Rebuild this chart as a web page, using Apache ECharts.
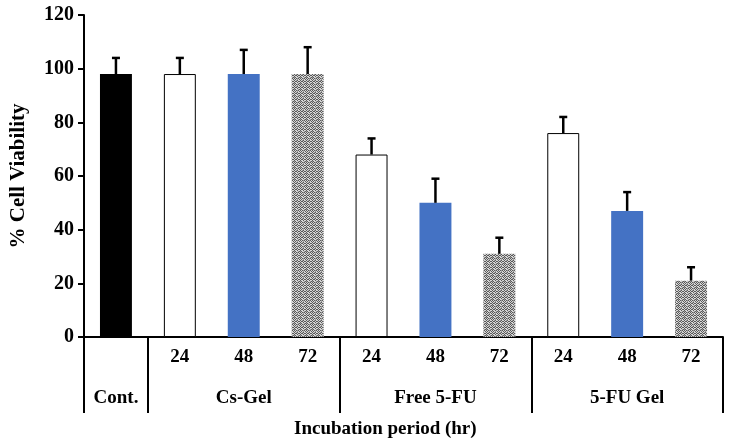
<!DOCTYPE html>
<html>
<head>
<meta charset="utf-8">
<script src="https://cdn.jsdelivr.net/npm/echarts@6/dist/echarts.min.js"></script>
<style>html,body{margin:0;padding:0;background:#fff;}#c{width:734px;height:445px;}</style>
</head>
<body>
<div id="c"></div>
<script>
// ---- data ----
const categories = ['Cont.', 'Cs-Gel 24', 'Cs-Gel 48', 'Cs-Gel 72', 'Free 5-FU 24', 'Free 5-FU 48', 'Free 5-FU 72', '5-FU Gel 24', '5-FU Gel 48', '5-FU Gel 72'];
const hourLabels = ['', '24', '48', '72', '24', '48', '72', '24', '48', '72'];
const groupLabels = ['Cont.', '', 'Cs-Gel', '', '', 'Free 5-FU', '', '', '5-FU Gel', ''];
const groupStarts = [0, 1, 4, 7];
const viability = [98, 98, 98, 98, 68, 50, 31, 76, 47, 21];
const errorUp = [6, 6, 9, 10, 6, 9, 6, 6, 7, 5];
const fillKinds = ['black', 'white', 'blue', 'pattern', 'white', 'blue', 'pattern', 'white', 'blue', 'pattern'];
const yTicks = { min: 0, max: 120, interval: 20 };

// ---- pattern texture ----
function makePattern() {
  const c = document.createElement('canvas');
  c.width = 6; c.height = 6;
  const g = c.getContext('2d');
  g.fillStyle = '#d6d6d6';
  g.fillRect(0, 0, 6, 6);
  g.fillStyle = '#5a5a5a';
  const dots = [[0,0],[2,0],[4,0],[1,1],[5,1],[0,2],[3,2],[1,3],[2,3],[4,3],[5,3],[0,4],[3,4],[1,5],[5,5]];
  dots.forEach(d => g.fillRect(d[0], d[1], 1, 1));
  g.fillStyle = '#9a9a9a';
  [[3,0],[3,1],[2,2],[4,5],[0,5]].forEach(d => g.fillRect(d[0], d[1], 1, 1));
  return c;
}
const patternImg = makePattern();
const styleFor = {
  black: { color: '#000000', borderColor: '#000000', borderWidth: 0 },
  white: { color: '#ffffff', borderColor: '#000000', borderWidth: 1 },
  blue: { color: '#4472C4', borderWidth: 0 },
  pattern: { color: { image: patternImg, repeat: 'repeat' }, borderWidth: 0 }
};

const font = 'Liberation Serif';
const chart = echarts.init(document.getElementById('c'), null, { renderer: 'canvas' });
chart.setOption({
  animation: false,
  backgroundColor: '#ffffff',
  grid: { left: 83, right: 11, top: 15, bottom: 108, containLabel: false },
  xAxis: {
    type: 'category',
    data: categories,
    boundaryGap: true,
    axisLine: { show: true, lineStyle: { color: '#000', width: 2 } },
    axisTick: {
      show: true,
      length: 76,
      interval: (i) => groupStarts.includes(i),
      lineStyle: { color: '#000', width: 2 }
    },
    axisLabel: {
      interval: 0,
      margin: 0,
      fontFamily: font,
      fontWeight: 'bold',
      fontSize: 19,
      color: '#000',
      lineHeight: 41,
      formatter: (v, i) => hourLabels[i] + '\n' + groupLabels[i]
    }
  },
  yAxis: {
    type: 'value',
    min: yTicks.min, max: yTicks.max, interval: yTicks.interval,
    name: '% Cell Viability',
    nameLocation: 'middle',
    nameGap: 55,
    nameTextStyle: { fontFamily: font, fontWeight: 'bold', fontSize: 21, color: '#000' },
    axisLine: { show: true, lineStyle: { color: '#000', width: 2 } },
    axisTick: { show: true, inside: false, length: 6, lineStyle: { color: '#000', width: 2 } },
    axisLabel: { margin: 10, fontFamily: font, fontWeight: 'bold', fontSize: 20, color: '#000' },
    splitLine: { show: false }
  },
  graphic: [{
    type: 'text',
    left: 294, top: 420,
    style: { text: 'Incubation period (hr)', fontFamily: font, fontWeight: 'bold', fontSize: 19, fill: '#000' }
  }],
  series: [{
    type: 'bar',
    barWidth: '50%',
    data: viability.map((v, i) => ({ value: v, itemStyle: styleFor[fillKinds[i]] })),
    z: 2
  }, {
    type: 'custom',
    z: 3,
    data: viability.map((v, i) => [i, v, v + errorUp[i]]),
    renderItem: function (params, api) {
      const base = api.coord([api.value(0), api.value(1)]);
      const top = api.coord([api.value(0), api.value(2)]);
      return {
        type: 'group',
        children: [
          { type: 'line', shape: { x1: base[0], y1: base[1], x2: top[0], y2: top[1] }, style: { stroke: '#000', lineWidth: 2.5 } },
          { type: 'line', shape: { x1: top[0] - 4, y1: top[1], x2: top[0] + 4, y2: top[1] }, style: { stroke: '#000', lineWidth: 2.5 } }
        ]
      };
    }
  }]
});
</script>
</body>
</html>
